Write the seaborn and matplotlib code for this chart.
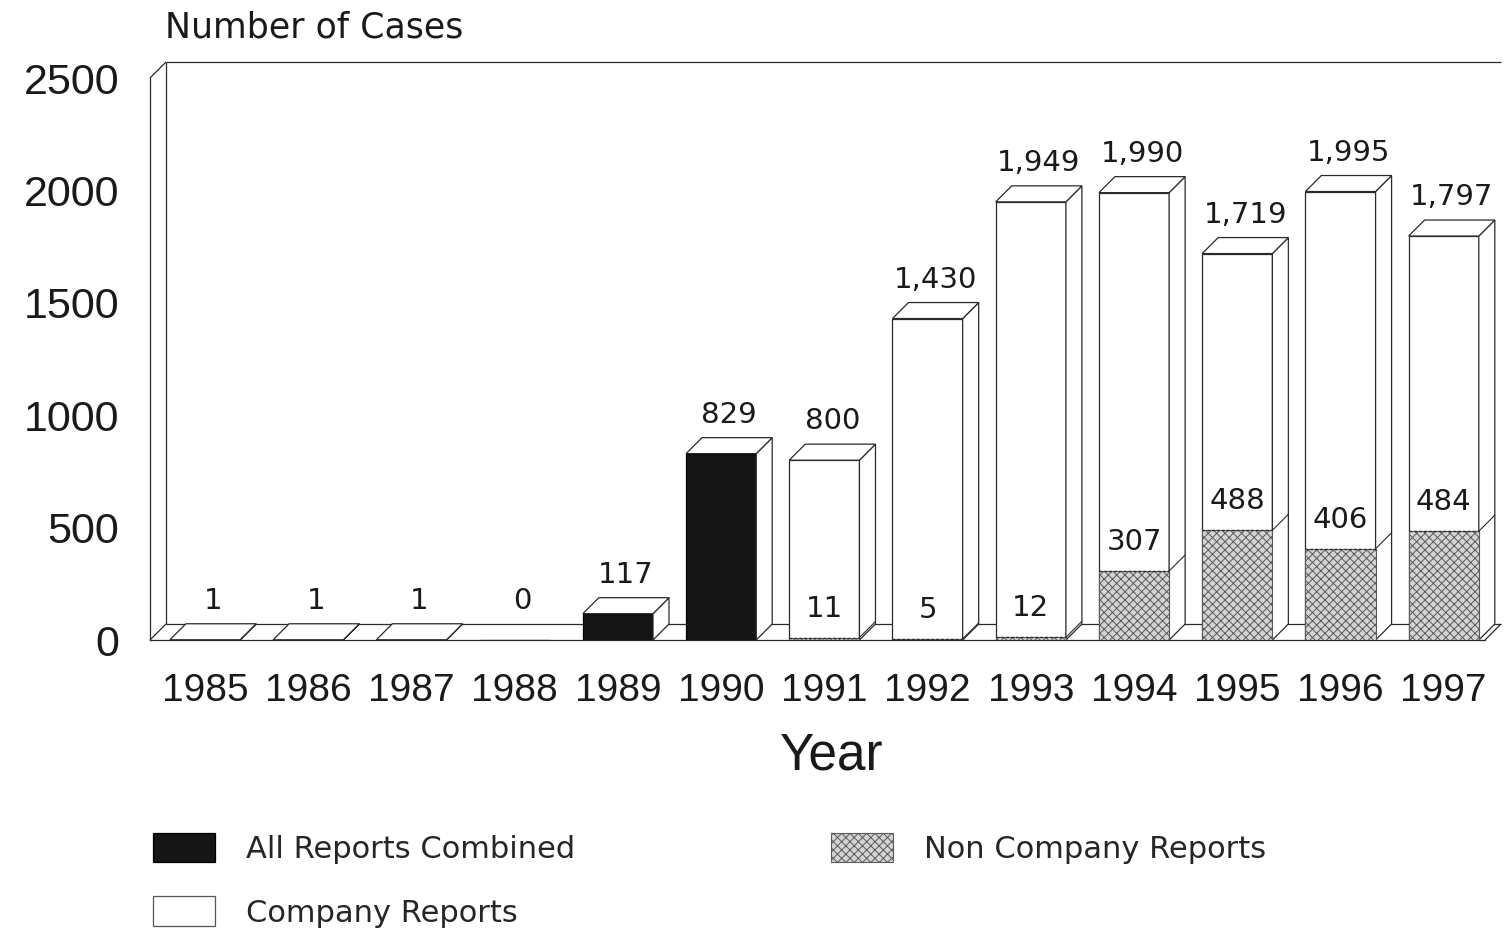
import matplotlib
matplotlib.use("Agg")
import matplotlib.pyplot as plt
import seaborn as sns
from matplotlib.patches import Polygon, Patch

# ---------------- data ----------------
years = ["1985", "1986", "1987", "1988", "1989", "1990", "1991",
         "1992", "1993", "1994", "1995", "1996", "1997"]
combined_years = ["1985", "1986", "1987", "1988", "1989", "1990"]
combined_vals = [1, 1, 1, 0, 117, 829]
split_years = ["1991", "1992", "1993", "1994", "1995", "1996", "1997"]
total_vals = [800, 1430, 1949, 1990, 1719, 1995, 1797]
noncompany_vals = [11, 5, 12, 307, 488, 406, 484]
y_ticks = [0, 500, 1000, 1500, 2000, 2500]
legend_labels = ["All Reports Combined", "Company Reports", "Non Company Reports"]

# ---------------- layout ----------------
W_PX, H_PX = 1504, 932
AX_L, AX_R, AX_T, AX_B = 150, 1501, 62, 640
X_LEFT = -0.533
X_FLOOR_RIGHT = 12.40
Y_TOP = 2500
DEPTH_PX = 16
BAR_W = 0.68

axw = AX_R - AX_L
axh = AX_B - AX_T
DXU = DEPTH_PX * (X_FLOOR_RIGHT - X_LEFT) / (axw - DEPTH_PX)
DYU = DEPTH_PX * Y_TOP / (axh - DEPTH_PX)
X_RIGHT = X_FLOOR_RIGHT + DXU
Y_MAX = Y_TOP + DYU
px_per_y = axh / Y_MAX

sns.set_style("white")
plt.rcParams["font.family"] = ["DejaVu Sans"]
plt.rcParams["hatch.linewidth"] = 0.7

fig = plt.figure(figsize=(W_PX / 100, H_PX / 100), dpi=100)
ax = fig.add_axes([AX_L / W_PX, 1 - AX_B / H_PX, axw / W_PX, axh / H_PX])

EDGE = "#2a2a2a"
LW = 0.9

# frame (back wall + floor)
frame_kw = dict(color=EDGE, lw=0.9, zorder=1, clip_on=False, solid_capstyle="butt")
ax.plot([X_LEFT, X_LEFT + DXU], [Y_TOP, Y_TOP + DYU], **frame_kw)
ax.plot([X_LEFT + DXU, X_RIGHT], [Y_MAX, Y_MAX], **frame_kw)
ax.plot([X_LEFT + DXU, X_LEFT + DXU], [DYU, Y_MAX], **frame_kw)
ax.plot([X_LEFT + DXU, X_RIGHT], [DYU, DYU], **frame_kw)
ax.plot([X_LEFT, X_LEFT + DXU], [0, DYU], **frame_kw)
ax.plot([X_FLOOR_RIGHT, X_RIGHT], [0, DYU], **frame_kw)

# bars
sns.barplot(x=combined_years, y=combined_vals, order=years, color="#151515",
            saturation=1, edgecolor="black", linewidth=LW, width=BAR_W,
            errorbar=None, ax=ax, zorder=3)
combined_bars = list(ax.containers[-1])
sns.barplot(x=split_years, y=total_vals, order=years, color="white",
            saturation=1, edgecolor=EDGE, linewidth=LW, width=BAR_W,
            errorbar=None, ax=ax, zorder=3)
total_bars = list(ax.containers[-1])
sns.barplot(x=split_years, y=noncompany_vals, order=years, color="#d4d4d4",
            saturation=1, edgecolor="#5a5a5a", linewidth=0.8, width=BAR_W,
            hatch="xxxx", errorbar=None, ax=ax, zorder=4)
nc_bars = list(ax.containers[-1])


def add_3d(rect):
    x0, w, h = rect.get_x(), rect.get_width(), rect.get_height()
    if not h or h <= 0:
        return
    top = Polygon([(x0, h), (x0 + DXU, h + DYU), (x0 + w + DXU, h + DYU), (x0 + w, h)],
                  closed=True, fc="white", ec=EDGE, lw=LW, zorder=3)
    side = Polygon([(x0 + w, 0), (x0 + w + DXU, DYU), (x0 + w + DXU, h + DYU), (x0 + w, h)],
                   closed=True, fc="white", ec=EDGE, lw=LW, zorder=3)
    ax.add_patch(side)
    ax.add_patch(top)


for r in combined_bars + total_bars:
    add_3d(r)

for r in nc_bars:
    x0 = r.get_x()
    x1 = x0 + r.get_width()
    h = r.get_height()
    ax.plot([x1, x1 + DXU], [h, h + DYU], color=EDGE, lw=0.8, zorder=5)
    ax.plot([x0, x1], [h, h], color=EDGE, lw=1.0, ls=(0, (2, 1.5)), zorder=5)

# labels
lab_kw = dict(ha="center", va="bottom", fontsize=21, family="DejaVu Sans",
              color="#1a1a1a", zorder=6)
for r, v in zip(combined_bars + total_bars, combined_vals + total_vals):
    cx = r.get_x() + r.get_width() / 2 + DXU / 2
    ax.text(cx, r.get_height() + DYU + 9 / px_per_y, f"{v:,}", **lab_kw)
for r, v in zip(nc_bars, noncompany_vals):
    cx = r.get_x() + r.get_width() / 2
    ax.text(cx, r.get_height() + 15 / px_per_y, f"{v:,}", **lab_kw)

# axes
ax.set_xlim(X_LEFT, X_RIGHT)
ax.set_ylim(0, Y_MAX)
ax.set_xlabel("")
ax.set_ylabel("")
for s in ["top", "right"]:
    ax.spines[s].set_visible(False)
ax.spines["left"].set_bounds(0, Y_TOP)
ax.spines["bottom"].set_bounds(X_LEFT, X_FLOOR_RIGHT)
for s in ["left", "bottom"]:
    ax.spines[s].set_color(EDGE)
    ax.spines[s].set_linewidth(0.9)
    ax.spines[s].set_zorder(2)
ax.set_xticks(range(len(years)))
ax.set_xticklabels(years, fontsize=28, family="Liberation Sans", color="#1a1a1a")
ax.set_yticks(y_ticks)
ax.set_yticklabels([str(t) for t in y_ticks], fontsize=31, family="Liberation Sans",
                   color="#1a1a1a")
ax.tick_params(axis="x", direction="out", length=12, width=0.8, color="#555555", pad=12)
ax.tick_params(axis="y", direction="out", length=10, width=0.8, color="#555555", pad=12)
ax.grid(False)

fig.text(165 / W_PX, 1 - 38 / H_PX, "Number of Cases", fontsize=25,
         family="DejaVu Sans", ha="left", va="baseline", color="#1a1a1a")
fig.text(832 / W_PX, 1 - 770 / H_PX, "Year", fontsize=37,
         family="Liberation Sans", ha="center", va="baseline", color="#1a1a1a")

handles = [Patch(fc="#151515", ec="black", lw=0.9),
           Patch(fc="white", ec="#555555", lw=0.9),
           Patch(fc="#d4d4d4", ec="#5a5a5a", lw=0.8, hatch="xxxx")]
fig.legend(handles, legend_labels, ncol=2, loc="upper left",
           bbox_to_anchor=(153 / W_PX, 1 - 833 / H_PX), frameon=False,
           prop={"family": "DejaVu Sans", "size": 22},
           handlelength=2.03, handleheight=1.1, handletextpad=1.0,
           columnspacing=8.4, labelspacing=1.06, borderpad=0, borderaxespad=0)

fig.savefig("out.png", dpi=100)
